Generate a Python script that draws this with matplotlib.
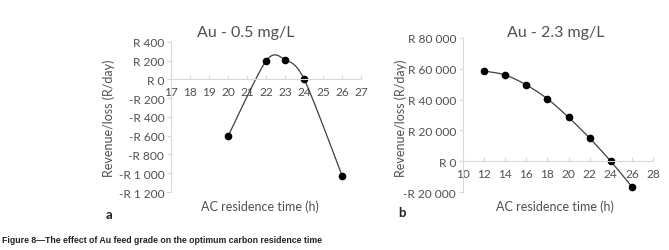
import numpy as np
import matplotlib
matplotlib.use("Agg")
import matplotlib.pyplot as plt
from matplotlib.ticker import FuncFormatter, FixedLocator

# Data
x_a = [20, 22, 23, 24, 26]
y_a = [-600, 200, 210, 0, -1030]
x_b = [12, 14, 16, 18, 20, 22, 24, 26]
y_b = [58500, 56000, 49500, 40500, 28500, 15000, 0, -16500]
title_a = "Au - 0.5 mg/L"
title_b = "Au - 2.3 mg/L"
xlabel = "AC residence time (h)"
ylabel = "Revenue/loss (R/day)"
caption = "Figure 8\u2014The effect of Au feed grade on the optimum carbon residence time"

plt.rcParams['font.family'] = ['Lato', 'DejaVu Sans']

def smooth(xs, ys, n=30, s=1/7.0):
    xs = np.asarray(xs, float); ys = np.asarray(ys, float)
    P = np.column_stack([xs, ys])
    P = np.vstack([P[0], P, P[-1]])
    out = []
    t = np.linspace(0, 1, n)[:, None]
    for i in range(1, len(P) - 2):
        p0, p1, p2, p3 = P[i - 1], P[i], P[i + 1], P[i + 2]
        c1 = p1 + s * (p2 - p0)
        c2 = p2 - s * (p3 - p1)
        c = ((1 - t) ** 3) * p1 + 3 * ((1 - t) ** 2) * t * c1 + 3 * (1 - t) * t ** 2 * c2 + t ** 3 * p2
        out.append(c)
    c = np.vstack(out)
    return c[:, 0], c[:, 1]

def rfmt(v, pos):
    s = f"{abs(int(round(v))):,}".replace(",", " ")
    return ("-R " if v < 0 else "R ") + s

fig = plt.figure(figsize=(6.69, 2.51), dpi=100)
gc = '#d9d9d9'
tc = '#505050'

def style(ax, xlim, ylim, xticks, yticks):
    ax.set_xlim(*xlim); ax.set_ylim(*ylim)
    for s in ['top', 'right']:
        ax.spines[s].set_visible(False)
    ax.spines['bottom'].set_position(('data', 0))
    ax.spines['bottom'].set_color(gc)
    ax.spines['left'].set_color(gc)
    ax.xaxis.set_major_locator(FixedLocator(xticks))
    ax.yaxis.set_major_locator(FixedLocator(yticks))
    ax.yaxis.set_major_formatter(FuncFormatter(rfmt))
    ax.tick_params(axis='both', colors=gc, labelcolor=tc, labelsize=8.6, length=3, width=0.8)
    ax.tick_params(axis='x', direction='in', pad=5)
    ax.tick_params(axis='y', pad=2)
    ax.set_facecolor('none')

ax1 = fig.add_axes([0.256, 0.231, 0.284, 0.598])
xs, ys = smooth(x_a, y_a)
ax1.plot(xs, ys, color='#404040', lw=0.9)
ax1.plot(x_a, y_a, 'o', color='black', ms=4.5)
style(ax1, (17, 27), (-1200, 400), list(range(17, 28)), list(range(-1200, 401, 200)))
fig.text(0.367, 0.87, title_a, ha='center', va='center', fontsize=11.5, color=tc)
fig.text(0.163, 0.53, ylabel, rotation=90, ha='center', va='center', fontsize=9, color=tc)
fig.text(0.388, 0.175, xlabel, ha='center', va='center', fontsize=9, color=tc)
fig.text(0.158, 0.143, 'a', ha='left', va='center', fontsize=9.5, fontweight='bold', color='#222222')

ax2 = fig.add_axes([0.692, 0.231, 0.284, 0.614])
xs, ys = smooth(x_b, y_b)
ax2.plot(xs, ys, color='#404040', lw=0.9)
ax2.plot(x_b, y_b, 'o', color='black', ms=4.5)
style(ax2, (10, 28), (-20000, 80000), list(range(10, 29, 2)), list(range(-20000, 80001, 20000)))
fig.text(0.83, 0.87, title_b, ha='center', va='center', fontsize=11.5, color=tc)
fig.text(0.599, 0.53, ylabel, rotation=90, ha='center', va='center', fontsize=9, color=tc)
fig.text(0.83, 0.175, xlabel, ha='center', va='center', fontsize=9, color=tc)
fig.text(0.596, 0.15, 'b', ha='left', va='center', fontsize=9.5, fontweight='bold', color='#222222')

fig.text(0.003, 0.04, caption, ha='left', va='center', fontsize=6.3, fontweight='bold',
         family=['Liberation Sans Narrow', 'Liberation Sans', 'DejaVu Sans'], color='#222222')

fig.savefig('out.png', dpi=100)
